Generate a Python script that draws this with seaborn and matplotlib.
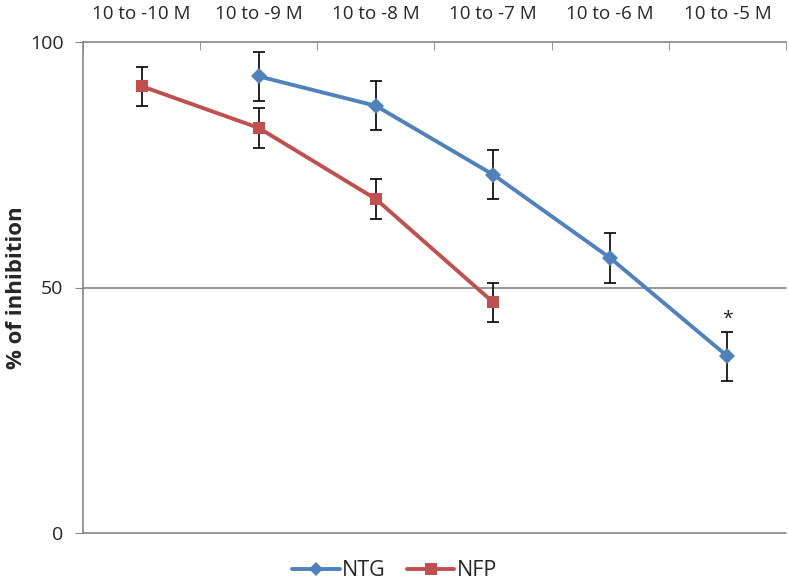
import numpy as np
import pandas as pd
import seaborn as sns
from matplotlib import pyplot as plt

categories = ['10 to -10 M', '10 to -9 M', '10 to -8 M', '10 to -7 M', '10 to -6 M', '10 to -5 M']
ntg_pos = [1, 2, 3, 4, 5]
ntg_vals = [93, 87, 73, 56, 36]
ntg_err = [5, 5, 5, 5, 5]
nfp_pos = [0, 1, 2, 3]
nfp_vals = [91, 82.5, 68, 47]
nfp_err = [4, 4, 4, 4]
yticks = [0, 50, 100]

blue = '#4F81BD'
red = '#C0504D'

sns.set_style('white')
plt.rcParams['font.family'] = ['Open Sans', 'DejaVu Sans']

df = pd.concat([
    pd.DataFrame({'x': ntg_pos, 'y': ntg_vals, 'series': 'NTG'}),
    pd.DataFrame({'x': nfp_pos, 'y': nfp_vals, 'series': 'NFP'}),
])

fig = plt.figure(figsize=(7.89, 5.84), dpi=100)
ax = fig.add_axes([83 / 789, 1 - 533 / 584, (786 - 83) / 789, (533 - 42) / 584])

# gridlines behind everything
for yv in yticks[:-1]:
    ax.axhline(yv, color='#868686', lw=1.2, zorder=0, clip_on=False)

ax.errorbar(ntg_pos, ntg_vals, yerr=ntg_err, fmt='none', ecolor='black',
            elinewidth=1.2, capsize=4, capthick=1.2, zorder=1)
ax.errorbar(nfp_pos, nfp_vals, yerr=nfp_err, fmt='none', ecolor='black',
            elinewidth=1.2, capsize=4, capthick=1.2, zorder=1)

sns.lineplot(data=df, x='x', y='y', hue='series', style='series',
             palette={'NTG': blue, 'NFP': red},
             markers={'NTG': 'D', 'NFP': 's'}, dashes=False,
             markersize=8, markeredgewidth=0, linewidth=2.8, ax=ax, legend=False,
             zorder=2)

# significance mark
ax.text(ntg_pos[-1], ntg_vals[-1] + ntg_err[-1] + 0.8, '*', ha='center', va='bottom',
        fontsize=14, color='#222222')

ax.set_xlim(-0.5, 5.5)
ax.set_ylim(0, 100)

# category axis on top, tick marks on boundaries
ax.xaxis.tick_top()
ax.set_xticks(np.arange(len(categories)))
ax.set_xticklabels(categories, fontsize=13.5)
ax.tick_params(axis='x', which='major', length=0, pad=14)
ax.set_xticks(np.arange(-0.5, len(categories), 1), minor=True)
ax.tick_params(axis='x', which='minor', direction='in', length=6, color='#868686', top=True)
ax.set_xlabel('')

ax.set_yticks(yticks)
ax.set_yticklabels([str(v) for v in yticks], fontsize=14)
ax.tick_params(axis='y', direction='out', length=6, color='#868686', left=True, pad=8)
ax.set_ylabel('% of inhibition', fontsize=16, fontweight='bold')
ax.yaxis.set_label_coords(-0.08, 0.5)

for side in ['bottom', 'right']:
    ax.spines[side].set_visible(False)
for side in ['top', 'left']:
    ax.spines[side].set_color('#868686')
    ax.spines[side].set_linewidth(1.2)

# legend below
handles = [
    plt.Line2D([], [], color=blue, lw=2.8, marker='D', markersize=7, markeredgewidth=0),
    plt.Line2D([], [], color=red, lw=2.8, marker='s', markersize=8, markeredgewidth=0),
]
fig.legend(handles, ['NTG', 'NFP'], loc='center', bbox_to_anchor=(0.5, 1 - 571 / 584),
           ncol=2, frameon=False, fontsize=15.5, handlelength=2.2, handletextpad=0.1,
           columnspacing=1.0)

plt.savefig('out.png', dpi=100)
